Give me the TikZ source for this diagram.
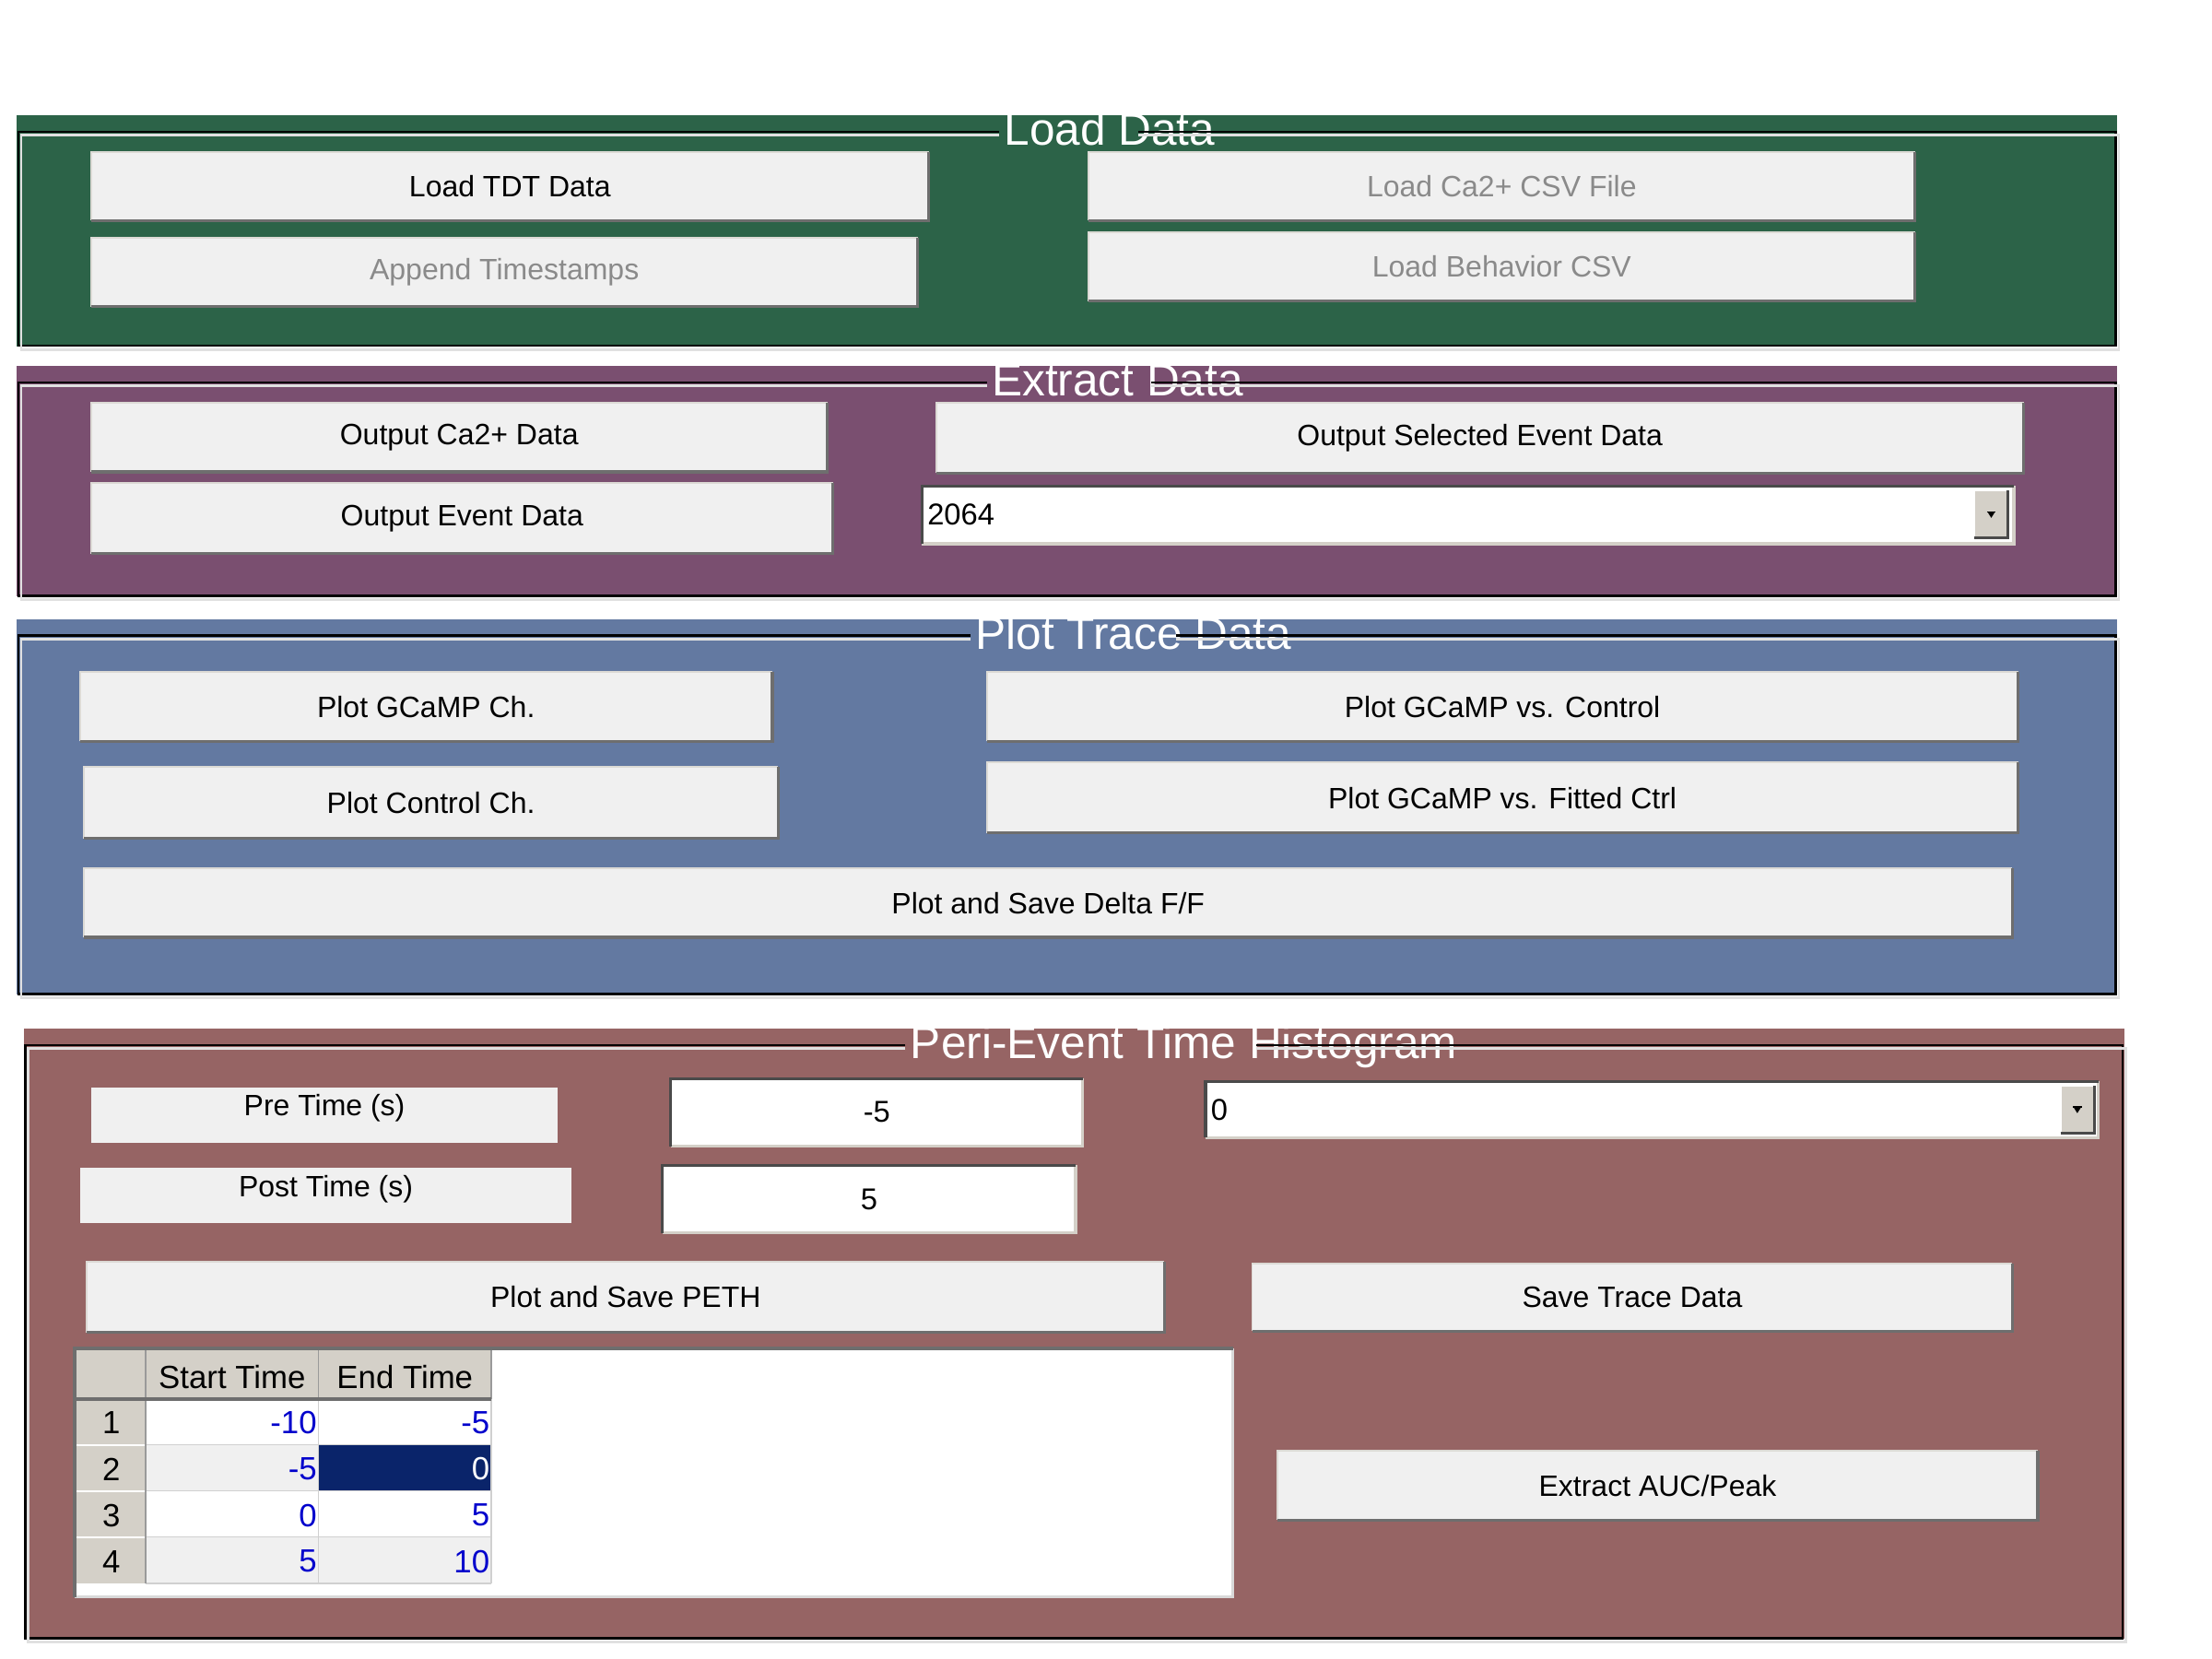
\documentclass[tikz,border=0pt]{standalone}
\usepackage{fontspec}
\setmainfont{Liberation Sans}
\usetikzlibrary{calc}
\usepackage{xcolor}

\definecolor{loadgreen}{HTML}{2C6348}
\definecolor{extractpurple}{HTML}{7A4F70}
\definecolor{plotblue}{HTML}{6379A1}
\definecolor{pethbrown}{HTML}{966464}
\definecolor{btnface}{HTML}{F0F0F0}
\definecolor{uilight}{HTML}{DCDAD5}
\definecolor{uishadow}{HTML}{6E6E6E}
\definecolor{uidark}{HTML}{4A4A4A}
\definecolor{hdrgray}{HTML}{D4D0C8}
\definecolor{gridgray}{HTML}{D0D0D0}
\definecolor{selnavy}{HTML}{0A246A}
\definecolor{numblue}{HTML}{0000CC}
\definecolor{dimgray}{HTML}{8A8A8A}

\tikzset{
  wh/.style 2 args={minimum width=#1*0.015306cm, minimum height=#2*0.015306cm},
  paneltitle/.style={text=white, font=\fontsize{14.1}{17}\selectfont, inner xsep=1.4pt, inner ysep=0pt},
  etchdark/.style={black, line width=0.75pt},
  etchlight/.style={white!88!black, line width=0.75pt},
  btn/.style={fill=btnface, inner sep=0pt, font=\fontsize{9.1}{11}\selectfont},
  dimbtn/.style={btn, text=dimgray},
  btntxt/.style={inner sep=0pt, font=\fontsize{9.1}{11}\selectfont},
  statictxt/.style={fill=btnface, inner sep=0pt},
  editbox/.style={fill=white, inner sep=0pt, font=\fontsize{9.3}{11}\selectfont},
  valtxt/.style={inner xsep=1.5pt, inner ysep=0pt, font=\fontsize{9.3}{11}\selectfont},
  popbtn/.style={fill=hdrgray, inner sep=0pt},
  tableframe/.style={fill=white, inner sep=0pt},
  tbltxt/.style={inner sep=0pt, font=\fontsize{9.9}{12}\selectfont},
  numtxt/.style={tbltxt, anchor=east},
  bevlight/.style={uilight, line width=0.55pt},
  bevdark/.style={uishadow, line width=0.9pt},
  sunkdark/.style={uidark, line width=0.9pt},
  sunklight/.style={hdrgray, line width=0.9pt},
  gridln/.style={gridgray, line width=0.5pt},
}

\begin{document}
\begin{tikzpicture}[x=0.015306cm, y=-0.015306cm]
    \useasboundingbox (0,0) rectangle (1568,1176);
    \fill[white] (0,0) rectangle (1568,1176);

    % panels with etched titled borders
    \foreach \nm/\col/\xa/\xb/\ya/\yb/\tx/\ttl in {
        loadpnl/loadgreen/12/1501/81.7/245.6/786.6/Load Data,
        extpnl/extractpurple/12/1501/259.4/422.7/792.2/Extract Data,
        plotpnl/plotblue/12/1501/438.8/705/803.6/Plot Trace Data,
        pethpnl/pethbrown/17/1506/729.1/1161.7/839.2/Peri-Event Time Histogram}
    {
        \fill[\col] (\xa,\ya) rectangle (\xb,\yb);
        \node[paneltitle, anchor=base] (\nm) at (\tx,\ya+21.3) {\ttl};
        \coordinate (\nm-m) at ($(\nm.west)!0.63!(\nm.east)$);
        \coordinate (\nm-d) at (\xa+1,\ya+11.7);
        \coordinate (\nm-w) at (\xa+3,\ya+14.2);
        \draw[etchdark] (\nm.west |- \nm-d) -- (\nm-d) |- (\xb-1.5,\yb-0.5) -- (\xb-1.5,\ya+11.7) -- (\nm-m |- \nm-d);
        \draw[etchlight] (\nm.west |- \nm-w) -- (\nm-w) |- (\xb+1,\yb+2.3) -- (\xb+1,\ya+14.2) -- (\nm-m |- \nm-w);
    }

    % Load Data
    \node[btn, wh={593}{48}] (tdt) at (361.5,132) {Load TDT Data};
    \node[dimbtn, wh={585}{48}] (append) at (357.5,193) {Append Timestamps};
    \node[dimbtn, wh={585}{48}] (csv) at (1064.5,132) {Load Ca2+ CSV File};
    \node[dimbtn, wh={585}{48}] (behav) at (1064.5,189) {Load Behavior CSV};

    % Extract Data
    \node[btn, wh={521}{48}] (ca) at (325.5,310) {Output Ca2+ Data};
    \node[btn, wh={525}{49}] (evt) at (327.5,367.5) {Output Event Data};
    \node[btn, wh={770}{49}] (sel) at (1049,310.5) {Output Selected Event Data};
    \node[editbox, wh={773}{40}] (evpop) at (1040.5,365) {};
    \node[popbtn, wh={23}{33}] (evarrow) at (1411.5,364.5) {};
    \node[valtxt, anchor=west] (evval) at (evpop.west) {2064};

    % Plot Trace Data
    \node[btn, wh={490}{48}] (gch) at (302,501) {Plot GCaMP Ch.};
    \node[btn, wh={491}{50}] (cch) at (305.5,569) {Plot Control Ch.};
    \node[btn, wh={730}{48}] (gvc) at (1065,501) {Plot GCaMP vs. Control};
    \node[btn, wh={730}{49}] (gvf) at (1065,565.5) {Plot GCaMP vs. Fitted Ctrl};
    \node[btn, wh={1366}{48}] (dff) at (743,640) {Plot and Save Delta F/F};

    % Peri-Event Time Histogram
    \node[statictxt, wh={330}{39}] (prelbl) at (230,790.5) {};
    \node[btntxt, anchor=base] (pretxt) at ($(prelbl.north)+(0,20.6)$) {Pre Time (s)};
    \node[statictxt, wh={348}{39}] (postlbl) at (231,847.5) {};
    \node[btntxt, anchor=base] (posttxt) at ($(postlbl.north)+(0,20.7)$) {Post Time (s)};
    \node[editbox, wh={291}{47}] (preedit) at (621.5,788.5) {-5};
    \node[editbox, wh={292}{47}] (postedit) at (616,850) {5};
    \node[editbox, wh={632}{39}] (binpop) at (1171,786.5) {};
    \node[popbtn, wh={23}{33}] (binarrow) at (1472.5,786.5) {};
    \node[valtxt, anchor=west] (binval) at (binpop.west) {0};
    \node[btn, wh={763}{49}] (peth) at (443.5,919.5) {Plot and Save PETH};
    \node[btn, wh={538}{47}] (save) at (1157,919.5) {Save Trace Data};
    \node[btn, wh={538}{48}] (auc) at (1175,1053) {Extract AUC/Peak};

    % raised and sunken edges
    \foreach \b in {tdt,append,csv,behav,ca,evt,sel,gch,cch,gvc,gvf,dff,peth,save,auc} {
        \draw[bevlight] (\b.south west) |- (\b.north east);
        \draw[bevdark] (\b.south west) -| (\b.north east);
    }
    \foreach \b in {evpop,preedit,postedit,binpop} {
        \draw[sunklight] (\b.south west) -| (\b.north east);
        \draw[sunkdark] (\b.south west) |- (\b.north east);
    }
    \foreach \a in {evarrow,binarrow} {
        \draw[white, line width=0.6pt] (\a.south west) |- (\a.north east);
        \draw[uidark, line width=0.9pt] (\a.south west) -| (\a.north east);
        \fill[black] ($(\a.center)+(-3.2,-2.2)$) rectangle ($(\a.center)+(3.2,-1.2)$);
        \fill[black] ($(\a.center)+(-2.4,-1.2)$) -- ($(\a.center)+(2.4,-1.2)$) -- ($(\a.center)+(0,2.6)$) -- cycle;
    }

    % event window table
    \node[tableframe, wh={819.9}{175.6}] (tbl) at (463.55,1043.8) {};
    \fill[hdrgray] (53.6,956) rectangle (348.2,991.7);
    \fill[hdrgray] (53.6,991.7) rectangle (103.2,1122.5);
    \node[tbltxt] (starthdr) at (164.5,976) {Start Time};
    \node[tbltxt] (endhdr) at (287,976) {End Time};
    \foreach \r/\s/\e/\cf/\ef/\et in {1/-10/-5/white/white/numblue,
                                     2/-5/0/btnface/selnavy/white,
                                     3/0/5/white/white/numblue,
                                     4/5/10/btnface/btnface/numblue} {
        \pgfmathsetmacro\yt{991.7+(\r-1)*32.7}
        \fill[\cf] (103.2,\yt) rectangle (225.7,\yt+32.7);
        \fill[\ef] (225.7,\yt) rectangle (348.2,\yt+32.7);
        \draw[white, line width=0.5pt] (53.6,\yt) -- (103.2,\yt);
        \draw[gridln] (103.2,\yt+32.7) -- (348.2,\yt+32.7);
        \node[tbltxt] (row\r) at (79,\yt+17) {\r};
        \node[numtxt, text=numblue] (start\r) at (225,\yt+17) {\s};
        \node[numtxt, text=\et] (end\r) at (347.5,\yt+17) {\e};
    }
    \draw[gridln] (225.7,991.7) -- (225.7,1122.5);
    \draw[gridln] (348.2,991.7) -- (348.2,1122.5);
    \draw[uishadow!70, line width=0.5pt] (103.2,956) -- (103.2,1122.5);
    \draw[uishadow!70, line width=0.5pt] (225.7,956) -- (225.7,991.7);
    \draw[uishadow!70, line width=0.5pt] (348.2,956) -- (348.2,991.7);
    \draw[uishadow, line width=0.9pt] (53.6,991.7) -- (348.2,991.7);
    \draw[white!85!black, line width=0.9pt] (tbl.south west) -| (tbl.north east);
    \draw[uishadow, line width=1.1pt] (tbl.south west) |- (tbl.north east);
\end{tikzpicture}
\end{document}
